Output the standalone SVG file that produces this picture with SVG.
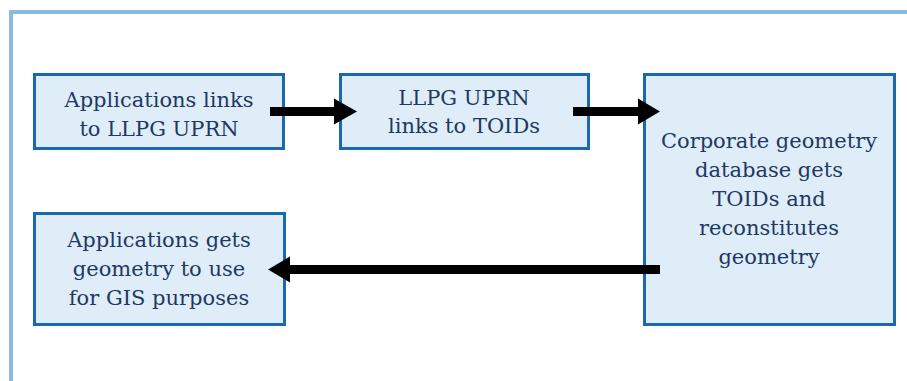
<svg xmlns="http://www.w3.org/2000/svg" width="907" height="381" viewBox="0 0 907 381">
<style>
.box{fill:#deedf7;stroke:#1a68b0;stroke-width:3}
.t{font-family:"DejaVu Serif",serif;font-size:21px;fill:#1f3864;text-anchor:middle}
.sh{stroke:#000;stroke-width:9;fill:none}
.hd{fill:#000}
</style>
<rect width="907" height="381" fill="#fff"/>
<path d="M11 381 V12 H907" fill="none" stroke="#8cb9de" stroke-width="4"/>
<g id="n1"><rect class="box" x="34.5" y="74.5" width="249" height="74"/>
<text class="t" x="159" y="107">Applications links</text><text class="t" x="159" y="136">to LLPG UPRN</text></g>
<g id="n2"><rect class="box" x="340.5" y="74.5" width="248" height="74"/>
<text class="t" x="464" y="105">LLPG UPRN</text><text class="t" x="464" y="133">links to TOIDs</text></g>
<g id="n3"><rect class="box" x="644.5" y="74.5" width="250" height="250"/>
<text class="t" x="769" y="148">Corporate geometry</text><text class="t" x="769" y="177">database gets</text><text class="t" x="769" y="206">TOIDs and</text><text class="t" x="769" y="235">reconstitutes</text><text class="t" x="769" y="264">geometry</text></g>
<g id="n4"><rect class="box" x="34.5" y="213.5" width="250" height="111"/>
<text class="t" x="159" y="247">Applications gets</text><text class="t" x="159" y="276">geometry to use</text><text class="t" x="159" y="305">for GIS purposes</text></g>
<g id="connectors">
<line class="sh" x1="270" y1="111.5" x2="336" y2="111.5"/><polygon class="hd" points="334,98.5 357,111.5 334,124.5"/>
<line class="sh" x1="573" y1="111.5" x2="640" y2="111.5"/><polygon class="hd" points="638,98.5 660,111.5 638,124.5"/>
<line class="sh" x1="660" y1="269.5" x2="288" y2="269.5"/><polygon class="hd" points="290,256.5 268,269.5 290,282.5"/>
</g>
</svg>
